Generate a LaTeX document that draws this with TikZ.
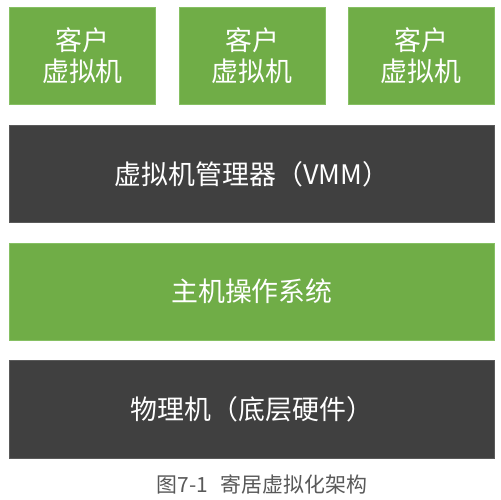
\documentclass[tikz,border=0pt]{standalone}
\usepackage{fontspec}
\setmainfont{Noto Sans CJK SC}
\definecolor{vgreen}{HTML}{70AD47}
\definecolor{vgreenedge}{HTML}{86C063}
\definecolor{vdark}{HTML}{404040}
\definecolor{vdarkedge}{HTML}{5A5A5A}
\definecolor{vcap}{HTML}{595959}
\begin{document}
\begin{tikzpicture}[x=1bp,y=-1bp,
  greenbox/.style={fill=vgreen,draw=vgreenedge,line width=0.8bp},
  darkbox/.style={fill=vdark,draw=vdarkedge,line width=0.8bp},
  lbl/.style={text=white,font=\fontsize{27}{31}\selectfont,align=center,inner sep=0pt},
  captxt/.style={text=vcap,font=\fontsize{21}{24}\selectfont,inner sep=0pt}]
\useasboundingbox (0,0) rectangle (501,500);
\fill[white] (0,0) rectangle (501,500);
% guest VMs
\draw[greenbox] (9.5,7.5) rectangle (155.5,104.3) node[lbl,midway] (g1) {客户\\虚拟机};
\draw[greenbox] (179,7.5) rectangle (325,104.3) node[lbl,midway] (g2) {客户\\虚拟机};
\draw[greenbox] (348.3,7.5) rectangle (494.3,104.3) node[lbl,midway] (g3) {客户\\虚拟机};
% VMM
\draw[darkbox] (9.5,125.3) rectangle (494.3,222.3) node[lbl,midway] (vmm) {虚拟机管理器（VMM）};
% host OS
\draw[greenbox] (9.5,243.3) rectangle (494.3,340) node[lbl,midway] (os) {主机操作系统};
% hardware
\draw[darkbox] (9.5,360.7) rectangle (494.3,458.3) node[lbl,midway] (hw) {物理机（底层硬件）};
% caption
\node[captxt] (caption) at (262,484) {图7-1\hspace{0.6em}寄居虚拟化架构};
\end{tikzpicture}
\end{document}
